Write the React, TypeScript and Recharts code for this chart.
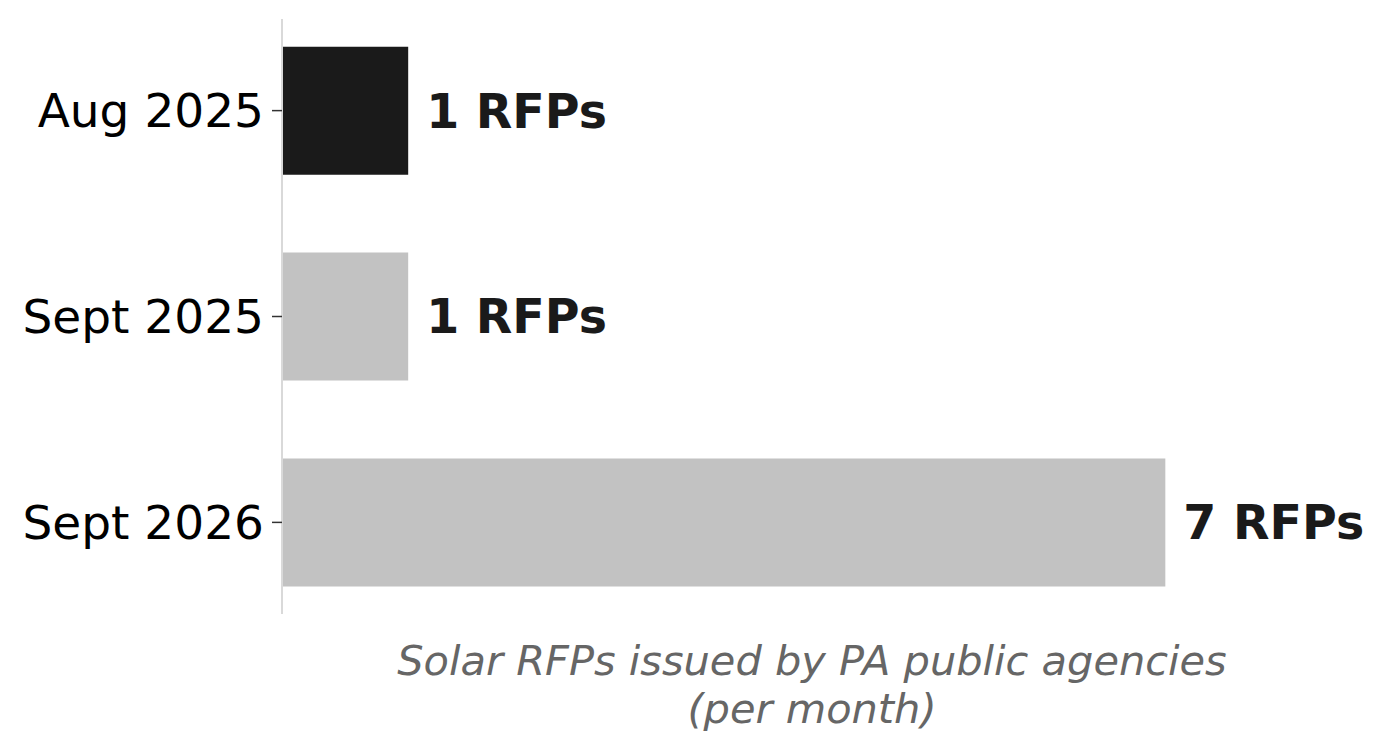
import React from "react";
import { BarChart, Bar, XAxis, YAxis, Cell, LabelList } from "recharts";

const categories = ["Aug 2025", "Sept 2025", "Sept 2026"];
const values = [1, 1, 7];
const barColors = ["#1a1a1a", "#c2c2c2", "#c2c2c2"];
const titleLines = ["Solar RFPs issued by PA public agencies", "(per month)"];

const data = categories.map((c, i) => ({ idx: i, name: c, value: values[i] }));

export default function App() {
  return (
    <div style={{ position: "absolute", left: 0, top: 0, width: 1383, height: 752, background: "#fff" }}>
      <BarChart
        width={1383}
        height={752}
        data={data}
        layout="vertical"
        margin={{ top: 19, right: 41, bottom: 138, left: 0 }}
      >
        <XAxis type="number" dataKey="value" domain={[0, 8.4]} hide />
        <YAxis
          type="number"
          dataKey="idx"
          domain={[-0.445, 2.445]}
          ticks={[0, 1, 2]}
          allowDataOverflow
          width={282}
          tickFormatter={(v: number) => categories[v] ?? ""}
          axisLine={{ stroke: "#d9d9d9", strokeWidth: 2 }}
          tickLine={{ stroke: "#333", strokeWidth: 1.5 }}
          tickSize={10}
          tickMargin={8}
          tick={{ fontSize: 47, fill: "#000", fontFamily: "DejaVu Sans" }}
        />
        <Bar dataKey="value" barSize={128} isAnimationActive={false}>
          {data.map((d, i) => (
            <Cell key={d.name} fill={barColors[i]} />
          ))}
          <LabelList
            dataKey="value"
            position="right"
            offset={18}
            formatter={(v: any) => `${v} RFPs`}
            style={{ fontSize: 47.5, fontWeight: "bold", fill: "#1a1a1a", fontFamily: "DejaVu Sans" }}
          />
        </Bar>
      </BarChart>
      <svg width={1383} height={752} style={{ position: "absolute", left: 0, top: 0, pointerEvents: "none" }}>
        {titleLines.map((t, i) => (
          <text
            key={t}
            x={812}
            y={660 + i * 48}
            textAnchor="middle"
            dominantBaseline="central"
            fontSize={41.5}
            fontStyle="italic"
            fontFamily="DejaVu Sans"
            fill="#666666"
          >
            {t}
          </text>
        ))}
      </svg>
    </div>
  );
}
